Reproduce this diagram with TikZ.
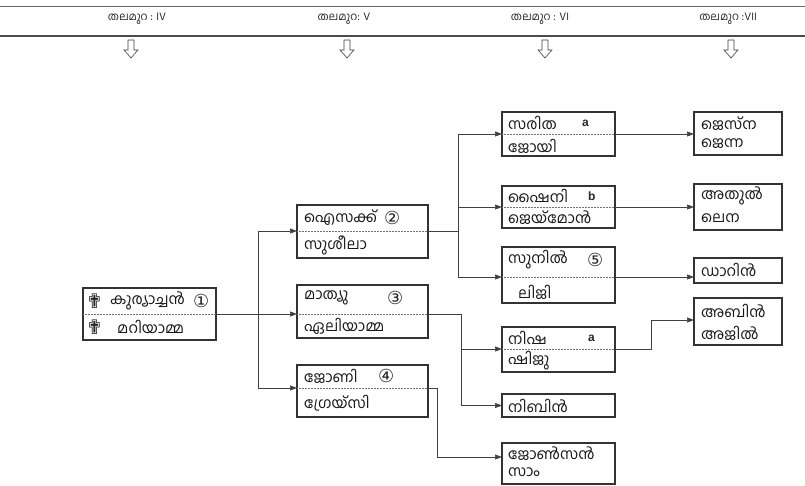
\documentclass[tikz,border=0pt]{standalone}
\usepackage{fontspec}
\setmainfont{Liberation Sans}
\newfontfamily\mal[Script=Malayalam]{Hind Kochi}
\newfontfamily\sym{DejaVu Sans}
\usetikzlibrary{arrows.meta}
\tikzset{
  card/.style={draw=black!80, line width=1.1pt, fill=white, inner sep=0pt, outer sep=0pt, anchor=north west},
  divline/.style={draw=black!55, line width=0.5pt, densely dotted},
  conn/.style={draw=black!75, line width=0.6pt},
  arr/.style={conn, -{Triangle[length=7pt,width=5pt]}},
  nm/.style={font=\mal\fontsize{15}{15}\selectfont, anchor=west, inner sep=0pt, text=black!90},
  num/.style={font=\sym\fontsize{18}{18}\selectfont, anchor=west, inner sep=0pt, text=black!85},
  crs/.style={font=\sym\fontsize{20}{20}\selectfont, anchor=west, inner sep=0pt, text=black!85},
  lett/.style={font=\bfseries\fontsize{12}{12}\selectfont, anchor=west, inner sep=0pt, text=black!85},
  hdr/.style={font=\mal\fontsize{11}{11}\selectfont, inner sep=0pt, text=black!85},
  hollow/.style={draw=black!75, line width=0.6pt, fill=white},
}
\newcommand\famcard[6]{%
  \node[card, minimum width={(#4-#2)*1pt}, minimum height={(#5-#3)*1pt}] (#1) at (#2,#3) {};
  \coordinate (#1L) at (#2,#6);
  \coordinate (#1R) at (#4,#6);
  \draw[divline] (#1L) -- (#1R);}
\newcommand\plaincard[5]{%
  \node[card, minimum width={(#4-#2)*1pt}, minimum height={(#5-#3)*1pt}] (#1) at (#2,#3) {};}
\newcommand\genarrow[2]{%
  \draw[hollow] (#1-3,40) -- (#1+3,40) -- (#1+3,50) -- (#1+7,50) -- (#1,58) -- (#1-7,50) -- (#1-3,50) -- cycle;}
\begin{document}
\begin{tikzpicture}[x=1pt,y=-1pt]
\useasboundingbox (0,0) rectangle (805,486);
% header
\draw[black!60, line width=0.8pt] (0,6) -- (805,6);
\draw[black!70, line width=1.5pt] (0,36) -- (805,36);
\node[hdr] (h4) at (137,19) {തലമുറ : IV};
\node[hdr] (h5) at (344,19) {തലമുറ: V};
\node[hdr] (h6) at (540,19) {തലമുറ : VI};
\node[hdr] (h7) at (728,19) {തലമുറ :VII};
\genarrow{131}{}
\genarrow{347}{}
\genarrow{545}{}
\genarrow{731}{}
% generation IV
\famcard{k}{83}{288}{216}{340}{314}
\node[crs] (k1) at (86,301) {✟};
\node[nm] (k1n) at (110,301) {കുര്യാച്ചൻ};
\node[num] (k1c) at (193,301) {①};
\node[crs] (k2) at (86,327) {✟};
\node[nm] (k2n) at (117,327) {മറിയാമ്മ};
% generation V
\famcard{is}{297}{205}{428}{258}{231}
\node[nm] (is1) at (304,218) {ഐസക്ക്};
\node[num] (is1c) at (384,218) {②};
\node[nm] (is2) at (304,245) {സുശീലാ};
\famcard{ma}{297}{285}{428}{338}{314}
\node[nm] (ma1) at (304,298) {മാത്യു};
\node[num] (ma1c) at (387,298) {③};
\node[nm] (ma2) at (304,326) {ഏലിയാമ്മ};
\famcard{jo}{297}{365}{428}{417}{388}
\node[nm] (jo1) at (304,376) {ജോണി};
\node[num] (jo1c) at (378,376) {④};
\node[nm] (jo2) at (304,403) {ഗ്രേയ്സി};
% generation VI
\famcard{sa}{502}{112}{615}{156}{134}
\node[nm] (sa1) at (508,123) {സരിത};
\node[lett] (sa1c) at (582,123) {a};
\node[nm] (sa2) at (508,146) {ജോയി};
\famcard{sh}{502}{186}{615}{228}{207}
\node[nm] (sh1) at (508,196) {ഷൈനി};
\node[lett] (sh1c) at (588,196) {b};
\node[nm] (sh2) at (508,218) {ജെയ്മോൻ};
\famcard{su}{502}{247}{615}{303}{277}
\node[nm] (su1) at (508,260) {സുനിൽ};
\node[num] (su1c) at (587,260) {⑤};
\node[nm] (su2) at (518,292) {ലിജി};
\famcard{ni}{502}{327}{615}{372}{349}
\node[nm] (ni1) at (508,338) {നിഷ};
\node[lett] (ni1c) at (588,338) {a};
\node[nm] (ni2) at (508,361) {ഷിജു};
\plaincard{nb}{502}{394}{615}{417}
\node[nm] (nb1) at (508,406) {നിബിൻ};
\plaincard{js}{502}{443}{615}{484}
\node[nm] (js1) at (508,454) {ജോൺസൻ};
\node[nm] (js2) at (508,472) {സാം};
% generation VII
\plaincard{je}{694}{112}{782}{155}
\node[nm] (je1) at (701,124) {ജെസ്ന};
\node[nm] (je2) at (701,144) {ജെന്ന};
\plaincard{at}{694}{184}{782}{230}
\node[nm] (at1) at (701,196) {അതുൽ};
\node[nm] (at2) at (701,218) {ലെന};
\plaincard{da}{694}{258}{782}{283}
\node[nm] (da1) at (701,270) {ഡാറിൻ};
\plaincard{ab}{694}{298}{782}{345}
\node[nm] (ab1) at (701,311) {അബിൻ};
\node[nm] (ab2) at (701,333) {അജിൽ};
% connectors IV -> V
\coordinate (t1) at (258,314);
\coordinate (t1a) at (258,231);
\coordinate (t1b) at (258,388);
\draw[conn] (kR) -- (t1);
\draw[conn] (t1a) -- (t1b);
\draw[arr] (t1a) -- (isL);
\draw[arr] (t1) -- (maL);
\draw[arr] (t1b) -- (joL);
% Isaac -> VI
\coordinate (t2) at (458,231);
\coordinate (t2a) at (458,134);
\coordinate (t2m) at (458,207);
\coordinate (t2b) at (458,277);
\draw[conn] (isR) -- (t2);
\draw[conn] (t2a) -- (t2b);
\draw[arr] (t2a) -- (saL);
\draw[arr] (t2m) -- (shL);
\draw[arr] (t2b) -- (suL);
% Mathew -> VI
\coordinate (t3) at (461,314);
\coordinate (t3a) at (461,349);
\coordinate (t3b) at (461,405.5);
\draw[conn] (maR) -- (t3) -- (t3b);
\draw[arr] (t3a) -- (niL);
\draw[arr] (t3b) -- (nb.west);
% Johny -> VI
\coordinate (t4) at (437,388);
\coordinate (t4b) at (437,457);
\draw[conn] (joR) -- (t4) -- (t4b);
\draw[arr] (t4b) -- (t4b -| js.west);
% VI -> VII
\draw[arr] (saR) -- (saR -| je.west);
\draw[arr] (shR) -- (shR -| at.west);
\draw[arr] (suR) -- (suR -| da.west);
\coordinate (t5) at (651,349);
\coordinate (t5b) at (651,320);
\draw[conn] (niR) -- (t5) -- (t5b);
\draw[arr] (t5b) -- (t5b -| ab.west);
\end{tikzpicture}
\end{document}
